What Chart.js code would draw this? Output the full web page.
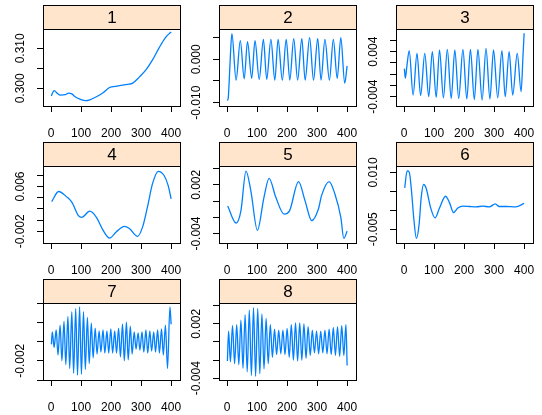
<!DOCTYPE html>
<html>
<head>
<meta charset="utf-8">
<script src="https://cdn.jsdelivr.net/npm/chart.js@4.4.1/dist/chart.umd.min.js"></script>
<style>
  html, body { margin: 0; padding: 0; background: #fff; }
  #panels { position: relative; width: 542px; height: 415px; overflow: hidden; }
  #panels canvas { position: absolute; }
</style>
</head>
<body>
<div id="panels"></div>
<script>
// x ticks shared by every panel
var xTicks = [0, 100, 200, 300, 400];

// panel 1
var p1x = [1, 5, 11, 20, 31, 47, 58, 69, 80, 96, 116, 129, 151, 173, 195, 206, 228, 255, 272, 294, 316, 338, 359, 381, 397, 400];
var p1y = [0.2981, 0.2989, 0.2994, 0.2988, 0.2983, 0.2984, 0.2988, 0.2986, 0.2979, 0.2973, 0.2969, 0.2971, 0.2979, 0.2989, 0.3002, 0.3004, 0.3007, 0.3010, 0.3013, 0.3028, 0.3046, 0.3071, 0.3100, 0.3127, 0.3139, 0.3141];
var p1Ticks = [0.300, 0.305, 0.310];
var p1Shown = [0.300, 0.310];

// panel 2
var p2x = [1, 4, 7, 10, 16, 30, 44, 57, 68, 82, 93, 107, 121, 132, 146, 159, 170, 184, 197, 209, 222, 235, 249, 260, 275, 288, 302, 313, 326, 341, 354, 367, 379, 392, 400];
var p2y = [-0.0095, -0.0088, -0.0050, -0.0005, 0.0059, -0.0048, 0.0043, -0.0045, 0.0041, -0.0044, 0.0043, -0.0046, 0.0046, -0.0046, 0.0046, -0.0048, 0.0046, -0.0048, 0.0046, -0.0048, 0.0048, -0.0048, 0.0048, -0.0048, 0.0050, -0.0048, 0.0048, -0.0048, 0.0046, -0.0048, 0.0046, -0.0044, 0.0050, -0.0055, -0.0015];
var p2Ticks = [-0.010, -0.005, 0.000, 0.005];
var p2Shown = [-0.010, 0.000];

// panel 3
var p3x = [1, 4, 9, 17, 30, 43, 55, 69, 82, 94, 107, 118, 131, 144, 157, 169, 182, 196, 209, 221, 234, 246, 260, 273, 286, 298, 312, 326, 337, 350, 362, 377, 390, 396, 400];
var p3y = [0.0010, -0.0007, 0.0013, 0.0042, -0.0037, 0.0037, -0.0038, 0.0037, -0.0040, 0.0040, -0.0041, 0.0043, -0.0042, 0.0044, -0.0043, 0.0043, -0.0043, 0.0044, -0.0044, 0.0044, -0.0045, 0.0044, -0.0046, 0.0046, -0.0044, 0.0043, -0.0042, 0.0042, -0.0040, 0.0040, -0.0037, 0.0037, -0.0031, 0.0030, 0.0073];
var p3Ticks = [-0.004, -0.002, 0.000, 0.002, 0.004, 0.006];
var p3Shown = [-0.004, 0.004];

// panel 4
var p4x = [2, 25, 53, 69, 91, 102, 129, 151, 173, 195, 217, 244, 261, 288, 305, 321, 338, 357, 376, 390, 400];
var p4y = [0.0033, 0.0051, 0.0041, 0.0032, 0.0008, 0.0005, 0.0016, 0.0005, -0.0018, -0.0032, -0.0021, -0.0011, -0.0015, -0.0029, -0.0012, 0.0023, 0.0065, 0.0087, 0.0080, 0.0062, 0.0038];
var p4Ticks = [-0.002, 0.000, 0.002, 0.004, 0.006, 0.008];
var p4Shown = [-0.002, 0.006];

// panel 5
var p5x = [2, 30, 46, 63, 79, 101, 123, 140, 162, 190, 208, 238, 260, 282, 304, 315, 340, 359, 379, 389, 400];
var p5y = [-0.0006, -0.0027, -0.0012, 0.0037, 0.0013, -0.0036, 0.0005, 0.0028, 0.0005, -0.0016, -0.0012, 0.0024, 0.0000, -0.0024, -0.0010, 0.0007, 0.0024, 0.0009, -0.0020, -0.0046, -0.0037];
var p5Ticks = [-0.004, -0.002, 0.000, 0.002, 0.004];
var p5Shown = [-0.004, 0.002];

// panel 6
var p6x = [2, 10, 17, 24, 32, 41, 50, 57, 65, 74, 88, 103, 118, 138, 151, 165, 179, 196, 218, 240, 262, 284, 304, 317, 340, 372, 400];
var p6y = [0.0059, 0.0104, 0.0101, 0.0057, -0.0019, -0.0074, -0.0037, 0.0034, 0.0068, 0.0057, 0.0008, -0.0020, 0.0006, 0.0037, 0.0021, -0.0006, 0.0006, 0.0011, 0.0010, 0.0009, 0.0011, 0.0009, 0.0017, 0.0010, 0.0010, 0.0009, 0.0018];
var p6Ticks = [-0.005, 0.000, 0.005, 0.010];
var p6Shown = [-0.005, 0.010];

// panel 7
var p7x = [1, 4, 10, 17, 23, 30, 36, 43, 49, 56, 62, 69, 75, 82, 88, 95, 101, 108, 114, 121, 127, 134, 140, 147, 153, 160, 166, 173, 179, 186, 192, 199, 205, 212, 218, 225, 231, 238, 244, 251, 257, 264, 270, 277, 283, 290, 296, 303, 309, 316, 322, 329, 335, 342, 348, 355, 361, 368, 374, 381, 388, 396, 400];
var p7y = [-0.0003, 0.0010, -0.0006, 0.0012, -0.0014, 0.0017, -0.0020, 0.0021, -0.0024, 0.0026, -0.0028, 0.0031, -0.0033, 0.0034, -0.0035, 0.0036, -0.0034, 0.0031, -0.0029, 0.0025, -0.0023, 0.0019, -0.0017, 0.0014, -0.0013, 0.0011, -0.0011, 0.0012, -0.0012, 0.0011, -0.0012, 0.0013, -0.0012, 0.0011, -0.0012, 0.0014, -0.0016, 0.0018, -0.0020, 0.0020, -0.0019, 0.0016, -0.0013, 0.0010, -0.0008, 0.0009, -0.0009, 0.0010, -0.0011, 0.0012, -0.0012, 0.0011, -0.0010, 0.0010, -0.0011, 0.0012, -0.0012, 0.0013, -0.0014, 0.0017, -0.0028, 0.0036, 0.0018];
var p7Ticks = [-0.004, -0.002, 0.000, 0.002, 0.004];
var p7Shown = [-0.002];

// panel 8
var p8x = [1, 5, 11, 18, 25, 32, 39, 46, 53, 60, 67, 74, 81, 88, 95, 102, 109, 116, 123, 130, 137, 144, 151, 158, 165, 172, 179, 186, 193, 200, 207, 214, 221, 228, 235, 242, 249, 256, 263, 270, 277, 284, 291, 298, 305, 312, 319, 326, 333, 340, 347, 354, 361, 368, 375, 382, 389, 396, 400];
var p8y = [-0.0021, 0.0012, -0.0022, 0.0018, -0.0024, 0.0019, -0.0025, 0.0024, -0.0029, 0.0030, -0.0033, 0.0035, -0.0037, 0.0038, -0.0038, 0.0037, -0.0035, 0.0031, -0.0030, 0.0026, -0.0024, 0.0019, -0.0017, 0.0014, -0.0014, 0.0013, -0.0013, 0.0013, -0.0014, 0.0015, -0.0017, 0.0019, -0.0020, 0.0021, -0.0021, 0.0021, -0.0020, 0.0020, -0.0018, 0.0017, -0.0015, 0.0013, -0.0012, 0.0012, -0.0013, 0.0012, -0.0012, 0.0013, -0.0013, 0.0014, -0.0014, 0.0016, -0.0015, 0.0017, -0.0016, 0.0018, -0.0015, 0.0019, -0.0026];
var p8Ticks = [-0.004, -0.002, 0.000, 0.002, 0.004];
var p8Shown = [-0.004, 0.002];

var FONT = "'Liberation Sans', Arial, Helvetica, sans-serif";
var STRIP_H = 24, BOX_W = 139, BOX_H = 77, AXIS_W = 43, AXIS_H = 34, PAD_R = 14, TICK_LEN = 6;
var colLeft = [43, 219, 396];
var rowTop = [5, 142, 279];

var ComponentPlots =
{
    panels: [
        {label: '1', x: p1x, y: p1y, ticks: p1Ticks, shown: p1Shown, min: 0.29558, max: 0.31483},
        {label: '2', x: p2x, y: p2y, ticks: p2Ticks, shown: p2Shown, min: -0.01077, max: 0.0070},
        {label: '3', x: p3x, y: p3y, ticks: p3Ticks, shown: p3Shown, min: -0.00566, max: 0.00804},
        {label: '4', x: p4x, y: p4y, ticks: p4Ticks, shown: p4Shown, min: -0.00408, max: 0.00965},
        {label: '5', x: p5x, y: p5y, ticks: p5Ticks, shown: p5Shown, min: -0.00516, max: 0.00432},
        {label: '6', x: p6x, y: p6y, ticks: p6Ticks, shown: p6Shown, min: -0.00862, max: 0.01168},
        {label: '7', x: p7x, y: p7y, ticks: p7Ticks, shown: p7Shown, min: -0.0040, max: 0.0040},
        {label: '8', x: p8x, y: p8y, ticks: p8Ticks, shown: p8Shown, min: -0.0042, max: 0.0043}
    ],

    //Peach strip with the panel number, plus the box round the plot area
    stripPlugin: {
        id: 'strip',
        afterDraw: function(chart, args, opts)
        {
            var a = chart.chartArea, ctx = chart.ctx;
            var l = Math.round(a.left) + 0.5, r = Math.round(a.right) + 0.5;
            var t = Math.round(a.top) + 0.5, b = Math.round(a.bottom) + 0.5;
            ctx.save();
            ctx.fillStyle = '#FFE5CC';
            ctx.fillRect(l, t - STRIP_H, r - l, STRIP_H);
            ctx.strokeStyle = '#000';
            ctx.lineWidth = 1;
            ctx.strokeRect(l, t - STRIP_H, r - l, STRIP_H);
            ctx.strokeRect(l, t, r - l, b - t);
            ctx.fillStyle = '#000';
            ctx.font = '17px ' + FONT;
            ctx.textAlign = 'center';
            ctx.textBaseline = 'middle';
            ctx.fillText(opts.text, (l + r) / 2, t - STRIP_H / 2 + 1);
            ctx.restore();
        }
    },

    init: function()
    {
        Chart.defaults.font.family = FONT;
        Chart.defaults.font.size = 12;
        Chart.defaults.color = '#000';

        this.measure = document.createElement('canvas').getContext('2d');
        this.measure.font = '12px ' + FONT;

        for (var i = 0; i < this.panels.length; i++) {
            this.drawPanel(this.panels[i], i % 3, Math.floor(i / 3));
        }
    },

    isShown: function(p, v)
    {
        for (var k = 0; k < p.shown.length; k++) {
            if (Math.abs(p.shown[k] - v) < 1e-9) return true;
        }
        return false;
    },

    drawPanel: function(p, col, row)
    {
        var canvas = document.createElement('canvas');
        var w = AXIS_W + BOX_W + PAD_R;
        var h = 5 + STRIP_H + BOX_H + AXIS_H;
        canvas.width = w;
        canvas.height = h;
        canvas.style.left = (colLeft[col] - AXIS_W) + 'px';
        canvas.style.top = (rowTop[row] - 5) + 'px';
        document.getElementById('panels').appendChild(canvas);

        var points = [];
        for (var k = 0; k < p.x.length; k++) {
            points.push({x: p.x[k], y: p.y[k]});
        }

        //rotated y labels: centre them about 21px left of the box
        var widest = 0;
        for (var k = 0; k < p.shown.length; k++) {
            widest = Math.max(widest, this.measure.measureText(p.shown[k].toFixed(3)).width);
        }
        var yPad = (AXIS_W - 21) - TICK_LEN - widest / 2;
        var self = this;

        new Chart(canvas, {
            type: 'scatter',
            data: {
                datasets: [{
                    data: points,
                    showLine: true,
                    borderColor: '#0080FF',
                    borderWidth: 1.3,
                    pointRadius: 0,
                    cubicInterpolationMode: 'monotone',
                    fill: false
                }]
            },
            options: {
                responsive: false,
                animation: false,
                events: [],
                layout: { padding: { top: 5 + STRIP_H, right: PAD_R, left: 0, bottom: 0 } },
                plugins: {
                    legend: { display: false },
                    tooltip: { enabled: false },
                    strip: { text: p.label }
                },
                scales: {
                    x: {
                        type: 'linear',
                        min: -27,
                        max: 428,
                        afterFit: function(s) { s.height = AXIS_H; },
                        afterBuildTicks: function(s) {
                            s.ticks = xTicks.map(function(v) { return {value: v}; });
                        },
                        grid: { drawOnChartArea: false, color: '#000', tickLength: TICK_LEN },
                        border: { display: false },
                        ticks: {
                            autoSkip: false,
                            maxRotation: 0,
                            padding: 14,
                            callback: function(v) { return String(v); }
                        }
                    },
                    y: {
                        type: 'linear',
                        min: p.min,
                        max: p.max,
                        afterFit: function(s) { s.width = AXIS_W; },
                        afterBuildTicks: function(s) {
                            s.ticks = p.ticks.map(function(v) { return {value: v}; });
                        },
                        grid: { drawOnChartArea: false, color: '#000', tickLength: TICK_LEN },
                        border: { display: false },
                        ticks: {
                            autoSkip: false,
                            minRotation: 90,
                            maxRotation: 90,
                            crossAlign: 'center',
                            padding: yPad,
                            callback: function(v) { return self.isShown(p, v) ? v.toFixed(3) : ''; }
                        }
                    }
                }
            },
            plugins: [this.stripPlugin]
        });
    }
}
ComponentPlots.init();
</script>
</body>
</html>
